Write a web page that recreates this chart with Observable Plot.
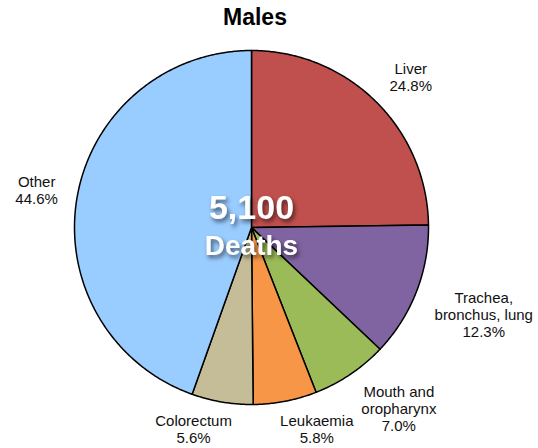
<!DOCTYPE html>
<html>
<head>
<meta charset="utf-8">
<script src="https://cdn.jsdelivr.net/npm/d3@7"></script>
<script src="https://cdn.jsdelivr.net/npm/@observablehq/plot@0.6"></script>
<style>
  html, body { margin: 0; padding: 0; background: #fff; }
  #title { width: 510px; height: 40px; box-sizing: border-box; padding-top: 4px; line-height: 30px;
           text-align: center; font: bold 23px "Liberation Sans", Arial, sans-serif; color: #000; }
  g[fill="white"] { filter: drop-shadow(2px 3px 2px rgba(0,0,0,0.55)); }
</style>
</head>
<body>
<div id="title"></div>
<div id="chart"></div>
<script>
const title = "Males";
const categories = ["Liver", "Trachea, bronchus, lung", "Mouth and oropharynx", "Leukaemia", "Colorectum", "Other"];
const labelText = ["Liver", "Trachea,\nbronchus, lung", "Mouth and\noropharynx", "Leukaemia", "Colorectum", "Other"];
const shares = [24.8, 12.3, 7.0, 5.8, 5.6, 44.6];
const colors = ["#C0504D", "#8064A2", "#9BBB59", "#F79646", "#C4BD97", "#99CCFF"];
const totalDeaths = 5100;
const centerLabel = "Deaths";

document.getElementById("title").textContent = title;

const W = 538, H = 408;
const mL = 74, mR = 110, mT = 10, mB = 44;
const k = (W - mL - mR) / 2; // px per unit
const fontSize = 15, lineH = 1.13;

// angles (clockwise from 12 o'clock)
const total = d3.sum(shares);
let acc = 0;
const slices = categories.map((name, i) => {
  const a0 = acc / total * 2 * Math.PI;
  acc += shares[i];
  const a1 = acc / total * 2 * Math.PI;
  return {name, i, a0, a1, mid: (a0 + a1) / 2, share: shares[i]};
});

// polygon vertices for each slice
const verts = [];
for (const s of slices) {
  verts.push({name: s.name, x: 0, y: 0});
  const n = Math.max(2, Math.ceil((s.a1 - s.a0) / (Math.PI / 360)));
  for (let j = 0; j <= n; j++) {
    const a = s.a0 + (s.a1 - s.a0) * j / n;
    verts.push({name: s.name, x: Math.sin(a), y: Math.cos(a)});
  }
}

// label positions (box placed just outside the pie along the mid angle)
const ctx = document.createElement("canvas").getContext("2d");
ctx.font = `${fontSize}px "Liberation Sans"`;
const labels = slices.map(s => {
  const text = `${labelText[s.i]}\n${s.share.toFixed(1)}%`;
  const lines = text.split("\n");
  const hw = d3.max(lines, l => ctx.measureText(l).width) / 2;
  const hh = lines.length * fontSize * lineH / 2;
  const sn = Math.sin(s.mid), cs = Math.cos(s.mid);
  const dx = 1.11 * k * sn + hw * Math.sign(sn) * Math.min(1, 4 * Math.abs(sn));
  const dy = 1.06 * k * cs + hh * Math.sign(cs) * Math.min(1, 2 * Math.abs(cs));
  return {text, x: dx / k, y: dy / k};
});

const plot = Plot.plot({
  width: W, height: H,
  marginLeft: mL, marginRight: mR, marginTop: mT, marginBottom: mB,
  x: {domain: [-1, 1], axis: null},
  y: {domain: [-1, 1], axis: null},
  color: {domain: categories, range: colors},
  style: {fontFamily: '"Liberation Sans", Arial, sans-serif', background: "white", overflow: "visible"},
  marks: [
    Plot.line(verts, {x: "x", y: "y", z: "name", fill: "name", stroke: "black", strokeWidth: 1.5,
                      strokeLinejoin: "round", curve: "linear-closed"}),
    Plot.text(labels, {x: "x", y: "y", text: "text", fontSize, lineHeight: lineH,
                       textAnchor: "middle", lineAnchor: "middle", fill: "#111"}),
    Plot.text([d3.format(",")(totalDeaths)], {x: () => 0, y: () => 0, text: d => d, dy: -19,
                       fontSize: 34, fontWeight: "bold", fill: "white", lineAnchor: "middle"}),
    Plot.text([centerLabel], {x: () => 0, y: () => 0, text: d => d, dy: 19,
                       fontSize: 28, fontWeight: "bold", fill: "white", lineAnchor: "middle"})
  ]
});
document.getElementById("chart").appendChild(plot);
</script>
</body>
</html>
